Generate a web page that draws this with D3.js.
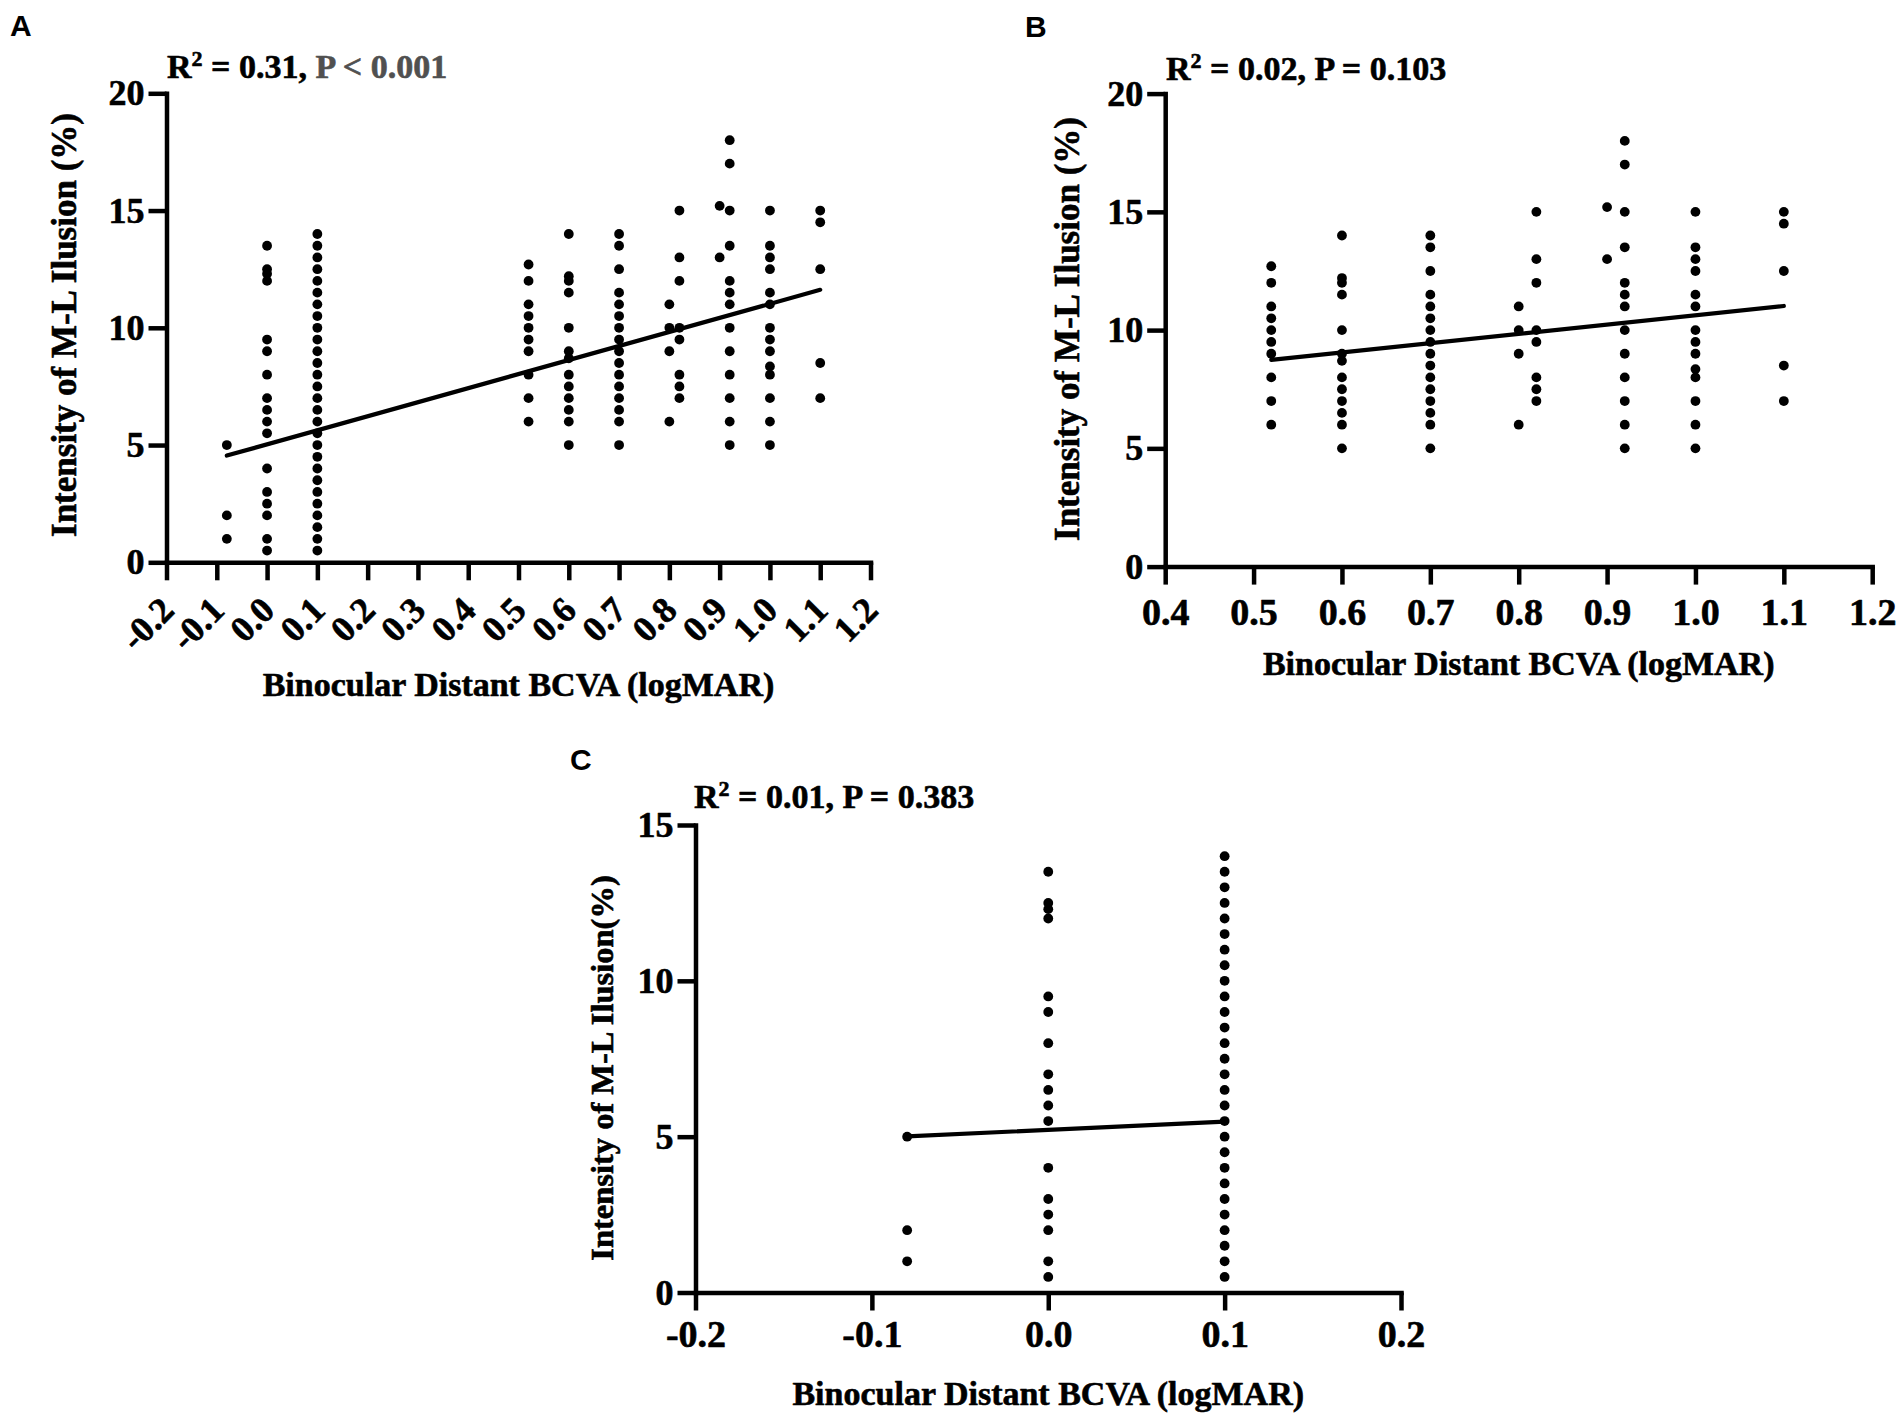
<!DOCTYPE html>
<html>
<head>
<meta charset="utf-8">
<script src="https://cdnjs.cloudflare.com/ajax/libs/d3/7.8.5/d3.min.js"></script>
<style>
  html, body { margin: 0; padding: 0; background: #fff; }
  svg { display: block; }
</style>
</head>
<body>
<div id="chart"></div>
<script>
// ---------------------------------------------------------
// Data: M-L illusion intensity (%) at each BCVA level (logMAR)
// one array of y values per x level
// ---------------------------------------------------------
const levelX = [-0.08, 0.0, 0.1, 0.52, 0.6, 0.7, 0.8, 0.82, 0.9, 0.92, 1.0, 1.1];

const yAtM008 = [5, 2, 1];
const yAt000 = [13.5, 12.5, 12.3, 12, 9.5, 9, 8, 7, 6.5, 6, 5.5, 4, 3, 2.5, 2, 1, 0.5];
const yAt010 = [14, 13.5, 13, 12.5, 12, 11.5, 11, 10.5, 10, 9.5, 9, 8.5, 8, 7.5,
                7, 6.5, 6, 5.5, 5, 4.5, 4, 3.5, 3, 2.5, 2, 1.5, 1, 0.5];
const yAt052 = [12.7, 12, 11, 10.5, 10, 9.5, 9, 8, 7, 6];
const yAt060 = [14, 12.2, 12, 11.5, 10, 9, 8.7, 8, 7.5, 7, 6.5, 6, 5];
const yAt070 = [14, 13.5, 12.5, 11.5, 11, 10.5, 10, 9.5, 9, 8.5, 8, 7.5, 7, 6.5, 6, 5];
const yAt080 = [11, 10, 9, 6];
const yAt082 = [15, 13, 12, 10, 9.5, 8, 7.5, 7];
const yAt090 = [15.2, 13];
const yAt092 = [18, 17, 15, 13.5, 12, 11.5, 11, 10, 9, 8, 7, 6, 5];
const yAt100 = [15, 13.5, 13, 12.5, 11.5, 11, 10, 9.5, 9, 8.35, 8, 7, 6, 5];
const yAt110 = [15, 14.5, 12.5, 8.5, 7];

const levelY = [yAtM008, yAt000, yAt010, yAt052, yAt060, yAt070,
                yAt080, yAt082, yAt090, yAt092, yAt100, yAt110];

// fitted regression lines (end points as drawn)
const fitAx = [-0.08, 1.1], fitAy = [4.55, 11.62];
const fitBx = [0.52, 1.1],  fitBy = [8.74, 11.02];
const fitCx = [-0.08, 0.1], fitCy = [5.01, 5.48];

// tick values
const ticksAx = [-0.2, -0.1, 0.0, 0.1, 0.2, 0.3, 0.4, 0.5, 0.6, 0.7, 0.8, 0.9, 1.0, 1.1, 1.2];
const ticksBx = [0.4, 0.5, 0.6, 0.7, 0.8, 0.9, 1.0, 1.1, 1.2];
const ticksCx = [-0.2, -0.1, 0.0, 0.1, 0.2];
const ticksY20 = [0, 5, 10, 15, 20];
const ticksY15 = [0, 5, 10, 15];

// ---------------------------------------------------------
// Setup
// ---------------------------------------------------------
const W = 1902, H = 1420;
const SERIF = '"Liberation Serif", "Times New Roman", Times, serif';
const SANS = '"Liberation Sans", Arial, Helvetica, sans-serif';
const HEAVY = 0.6; // extra stroke so the bold serif looks as heavy as the original

const svg = d3.select("#chart").append("svg")
  .attr("width", W)
  .attr("height", H)
  .attr("viewBox", `0 0 ${W} ${H}`);

svg.append("rect").attr("width", W).attr("height", H).attr("fill", "#fff");

function pointsFor(minX, maxX) {
  const pts = [];
  levelX.forEach((lx, i) => {
    if (lx < minX || lx > maxX) return;
    levelY[i].forEach(v => pts.push({ x: lx, y: v }));
  });
  return pts;
}

function heavy(sel, color) {
  return sel.attr("stroke", color || "#000").attr("stroke-width", HEAVY)
    .attr("stroke-linejoin", "round");
}

function drawPanel(p) {
  const x = d3.scaleLinear().domain(p.xDomain).range([p.left, p.right]);
  const y = d3.scaleLinear().domain(p.yDomain).range([p.bottom, p.top]);
  const g = svg.append("g");

  // panel letter
  g.append("text")
    .attr("x", p.letterPos[0]).attr("y", p.letterPos[1])
    .attr("font-family", SANS).attr("font-weight", "bold")
    .attr("font-size", 30)
    .text(p.letter);

  // R^2 / P header
  const t = g.append("text")
    .attr("x", p.titlePos[0]).attr("y", p.titlePos[1])
    .attr("font-family", SERIF).attr("font-weight", "bold")
    .attr("font-size", 34);
  heavy(t.append("tspan").text("R"));
  heavy(t.append("tspan").attr("font-size", 22).attr("dy", -12).text("2"));
  heavy(t.append("tspan").attr("dy", 12).text(` = ${p.r2}, `));
  heavy(t.append("tspan").attr("fill", p.pColor).text(p.pText), p.pColor);

  // x axis
  const xAxis = g.append("g")
    .attr("transform", `translate(0,${p.bottom})`)
    .call(d3.axisBottom(x).tickValues(p.xTicks).tickSize(18)
      .tickSizeOuter(0).tickPadding(p.xPad).tickFormat(d => d.toFixed(1)));

  // y axis
  const yAxis = g.append("g")
    .attr("transform", `translate(${p.left},0)`)
    .call(d3.axisLeft(y).tickValues(p.yTicks).tickSize(18)
      .tickSizeOuter(0).tickPadding(4).tickFormat(d3.format("d")));

  [xAxis, yAxis].forEach(a => {
    a.select(".domain").attr("stroke", "#000").attr("stroke-width", 4.5)
      .attr("stroke-linecap", "square");
    a.selectAll(".tick line").attr("stroke", "#000").attr("stroke-width", 4.5);
    heavy(a.selectAll(".tick text").attr("fill", "#000")
      .attr("font-family", SERIF).attr("font-weight", "bold"));
  });
  yAxis.selectAll(".tick text").attr("font-size", 36);
  xAxis.selectAll(".tick text").attr("font-size", p.xFont);

  if (p.rotateX) {
    xAxis.selectAll(".tick text")
      .attr("text-anchor", "end")
      .attr("y", null).attr("dy", null)
      .attr("transform", "translate(9,50) rotate(-45)");
  }

  // axis titles
  heavy(g.append("text")
    .attr("x", (p.left + p.right) / 2).attr("y", p.xTitleY)
    .attr("text-anchor", "middle")
    .attr("font-family", SERIF).attr("font-weight", "bold").attr("font-size", 34)
    .text("Binocular Distant BCVA (logMAR)"));

  heavy(g.append("text")
    .attr("transform", `translate(${p.yTitleX},${p.yTitleMid}) rotate(-90)`)
    .attr("text-anchor", "middle")
    .attr("font-family", SERIF).attr("font-weight", "bold").attr("font-size", p.yTitleFont)
    .text(p.yTitle));

  // points
  g.append("g")
    .selectAll("circle")
    .data(pointsFor(p.xDomain[0], p.xDomain[1]))
    .enter()
    .append("circle")
    .attr("cx", d => x(d.x))
    .attr("cy", d => y(d.y))
    .attr("r", 4.9)
    .attr("fill", "#000");

  // regression line
  const fit = p.fitX.map((fx, i) => [fx, p.fitY[i]]);
  g.append("path")
    .datum(fit)
    .attr("fill", "none")
    .attr("stroke", "#000")
    .attr("stroke-width", 4.2)
    .attr("stroke-linecap", "round")
    .attr("d", d3.line().x(d => x(d[0])).y(d => y(d[1])));
}

// ---------------------------------------------------------
// Panels
// ---------------------------------------------------------
drawPanel({
  letter: "A", letterPos: [10, 36],
  r2: "0.31", pText: "P < 0.001", pColor: "#505050", titlePos: [167, 78],
  left: 166.5, right: 870.5, top: 93.3, bottom: 562.3,
  xDomain: [-0.2, 1.2], yDomain: [0, 20],
  xTicks: ticksAx, yTicks: ticksY20, xFont: 36, xPad: 12, rotateX: true,
  xTitleY: 696, yTitleX: 76, yTitleMid: 325, yTitleFont: 35,
  yTitle: "Intensity of M-L Ilusion (%)",
  fitX: fitAx, fitY: fitAy
});

drawPanel({
  letter: "B", letterPos: [1025, 37],
  r2: "0.02", pText: "P = 0.103", pColor: "#000", titlePos: [1166, 80],
  left: 1165.2, right: 1872.2, top: 93.6, bottom: 566.6,
  xDomain: [0.4, 1.2], yDomain: [0, 20],
  xTicks: ticksBx, yTicks: ticksY20, xFont: 38, xPad: 13,
  xTitleY: 675, yTitleX: 1079, yTitleMid: 329, yTitleFont: 35,
  yTitle: "Intensity of M-L Ilusion (%)",
  fitX: fitBx, fitY: fitBy
});

drawPanel({
  letter: "C", letterPos: [570, 770],
  r2: "0.01", pText: "P = 0.383", pColor: "#000", titlePos: [694, 808],
  left: 695.5, right: 1401, top: 825, bottom: 1292.5,
  xDomain: [-0.2, 0.2], yDomain: [0, 15],
  xTicks: ticksCx, yTicks: ticksY15, xFont: 38, xPad: 10,
  xTitleY: 1405, yTitleX: 613, yTitleMid: 1068, yTitleFont: 32.5,
  yTitle: "Intensity of M-L Ilusion(%)",
  fitX: fitCx, fitY: fitCy
});
</script>
</body>
</html>
